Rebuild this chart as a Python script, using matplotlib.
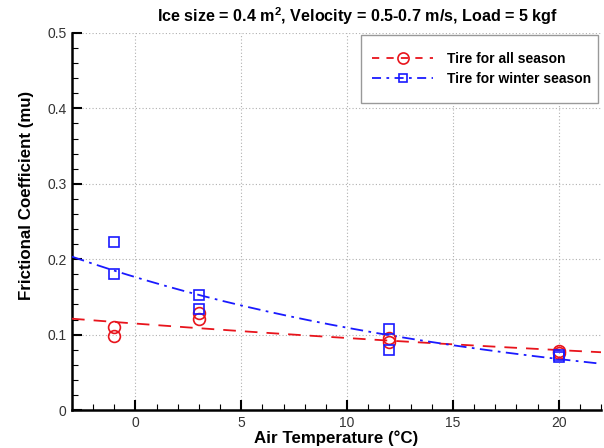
import numpy as np
import matplotlib
matplotlib.use("Agg")
import matplotlib.pyplot as plt
from matplotlib.ticker import MultipleLocator
from matplotlib.patches import Rectangle

plt.rcParams['font.family'] = ['Liberation Sans', 'DejaVu Sans']

# Data
all_season_temp = [-1, -1, 3, 3, 12, 12, 20, 20]
all_season_mu = [0.110, 0.098, 0.129, 0.121, 0.0955, 0.090, 0.078, 0.076]
winter_temp = [-1, -1, 3, 3, 12, 12, 20, 20]
winter_mu = [0.223, 0.180, 0.1525, 0.1335, 0.107, 0.080, 0.073, 0.070]

labels = ["Tire for all season", "Tire for winter season"]
title = "Ice size = 0.4 m$^\\mathregular{2}$, Velocity = 0.5-0.7 m/s, Load = 5 kgf"
xlabel = "Air Temperature (\u00b0C)"
ylabel = "Frictional Coefficient (mu)"
x_ticks = [0, 5, 10, 15, 20]
y_ticks = [0, 0.1, 0.2, 0.3, 0.4, 0.5]
y_ticklabels = ["0", "0.1", "0.2", "0.3", "0.4", "0.5"]

W, H = 604, 448
fig = plt.figure(figsize=(W / 100, H / 100), dpi=100)
ax = fig.add_axes([72 / W, 1 - 410 / H, 529 / W, 377 / H])

xfit = np.linspace(-3, 22, 200)

def expfit(x, y):
    b, a = np.polyfit(np.asarray(x, float), np.log(np.asarray(y, float)), 1)
    return np.exp(a + b * xfit)

red = '#e8141c'
blue = '#1a1aff'

ax.plot(xfit, expfit(all_season_temp, all_season_mu), color=red, lw=1.3,
        dashes=(7, 5), zorder=3)
ax.plot(xfit, expfit(winter_temp, winter_mu), color=blue, lw=1.3,
        dashes=(7, 3, 1.5, 3), zorder=3)
ax.plot(all_season_temp, all_season_mu, 'o', ms=8.5, mfc='none', mec=red,
        mew=1.2, zorder=4)
ax.plot(winter_temp, winter_mu, 's', ms=7, mfc='none', mec=blue,
        mew=1.2, zorder=4)

# legend proxies
h1, = ax.plot([], [], color=red, lw=1.3, dashes=(4, 4), marker='o', ms=8,
              mfc='none', mec=red, mew=1.2)
h2, = ax.plot([], [], color=blue, lw=1.3, dashes=(5, 3, 1.5, 3), marker='s', ms=5.5,
              mfc='none', mec=blue, mew=1.2)
# legend frame
ax.add_patch(Rectangle((361 / W, 1 - 103 / H), 237 / W, 68 / H,
                       transform=fig.transFigure, facecolor='white',
                       edgecolor='#999999', lw=1.0, zorder=5, clip_on=False))
leg = ax.legend([h1, h2], labels, loc='upper left',
                bbox_to_anchor=(372 / W, 1 - 52 / H), bbox_transform=fig.transFigure,
                borderaxespad=0, borderpad=0, frameon=False, handlelength=4.4,
                prop={'weight': 'bold', 'size': 10}, labelspacing=0.4,
                handletextpad=1.0)
leg.set_zorder(6)

ax.set_xlim(-3, 22)
ax.set_ylim(0, 0.5)
ax.set_xticks(x_ticks)
ax.set_yticks(y_ticks)
ax.set_yticklabels(y_ticklabels)
ax.xaxis.set_minor_locator(MultipleLocator(1))
ax.yaxis.set_minor_locator(MultipleLocator(0.02))
ax.tick_params(which='major', direction='in', length=7, width=1.5,
               labelsize=10, labelcolor='#333333', pad=4)
ax.tick_params(which='minor', direction='in', length=4, width=0.8)

ax.grid(True, which='major', color='#b0b0b0', linestyle=(0, (1, 2)), lw=0.8)
for s in ['top', 'right']:
    ax.spines[s].set_visible(False)
for s in ['left', 'bottom']:
    ax.spines[s].set_linewidth(1.8)

fig.text(358 / W, 1 - 16 / H, title, fontsize=11.6, fontweight='bold',
         ha='center', va='center')
ax.set_xlabel(xlabel, fontsize=12.2, fontweight='bold')
ax.xaxis.label.set_va('center')
ax.xaxis.set_label_coords(0.5, (410 - 438) / 377)
ax.set_ylabel(ylabel, fontsize=12.2, fontweight='bold')
ax.yaxis.label.set_va('center')
ax.yaxis.set_label_coords((27 - 72) / 529, (410 - 195) / 377)

fig.savefig('out.png', dpi=100)
